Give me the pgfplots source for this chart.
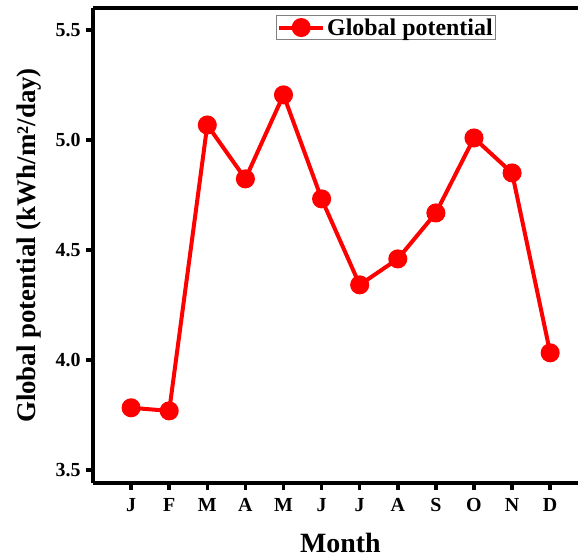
\documentclass[border=0pt]{standalone}
\usepackage{fontspec}
\setmainfont{Liberation Serif}
\usepackage{pgfplots}
\pgfplotsset{compat=1.18}
\begin{document}
\begin{tikzpicture}
\begin{axis}[
  scale only axis, width=485bp, height=475bp,
  xmin=0, xmax=12.73, ymin=3.44, ymax=5.6,
  axis x line=box, axis y line=left,
  axis line style={line width=3.8bp, -},
  xtick pos=bottom, ytick pos=left,
  xtick={1,...,12},
  xticklabels={J,F,M,A,M,J,J,A,S,O,N,D},
  ytick={3.5,4.0,4.5,5.0,5.5},
  yticklabel style={xshift=-2bp, /pgf/number format/.cd, fixed, fixed zerofill, precision=1},
  /pgf/number format/assume math mode=true,
  tick align=outside, major tick length=7bp,
  tick style={line width=3.5bp, black},
  ticklabel style={font=\fontsize{20}{20}\selectfont\bfseries},
  xticklabel style={yshift=-5bp},
  xlabel={Month}, ylabel={Global potential (kWh/m²/day)},
  xlabel style={font=\fontsize{28}{28}\selectfont\bfseries,
    at={(axis description cs:0.51,-0.126)}, anchor=center},
  ylabel style={font=\fontsize{27}{27}\selectfont\bfseries,
    at={(axis description cs:-0.132,0.5)}, anchor=center},
  legend style={at={(0.377,0.985)}, anchor=north west, draw=gray, line width=0.8bp,
    font=\fontsize{24}{24}\selectfont\bfseries, inner sep=1bp},
  legend image code/.code={\draw[#1, mark repeat=2, mark phase=2] plot coordinates {(0bp,0bp)(22bp,0bp)(44bp,0bp)};},
]
\addplot[color=red, line width=4bp, mark=*, mark size=7.5bp, mark options={solid}]
coordinates {
(1,3.782) (2,3.768) (3,5.068) (4,4.823) (5,5.205) (6,4.732)
(7,4.341) (8,4.459) (9,4.668) (10,5.009) (11,4.850) (12,4.032)
};
\addlegendentry{Global potential}
\coordinate (ll) at (rel axis cs:0,0);
\coordinate (ur) at (rel axis cs:1,1);
\end{axis}
\pgfresetboundingbox
\path ([shift={(-93bp,-74bp)}]ll) rectangle ([shift={(0bp,8bp)}]ur);
\end{tikzpicture}
\end{document}
